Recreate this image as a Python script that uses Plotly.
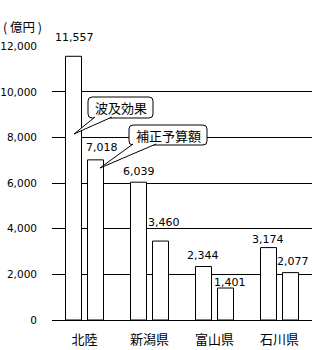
import plotly.graph_objects as go

categories = ["北陸", "新潟県", "富山県", "石川県"]
wave_effect = [11557, 6039, 2344, 3174]      # 波及効果
budget = [7018, 3460, 1401, 2077]            # 補正予算額
y_ticks = [0, 2000, 4000, 6000, 8000, 10000, 12000]
y_tick_labels = ["0", "2,000", "4,000", "6,000", "8,000", "10,000", "12,000"]

# label placement styles (pixel offsets of value labels relative to bar top/centre)
wave_label_dy = [19, 11, 11, 8]
wave_label_dx = [1, 0, -1, -1]
budget_label_dy = [12, 19, 6, 11]
budget_label_dx = [6, 3, 4, 2]

W, H = 320, 350
ML, MR, MT, MB = 52, 8, 46, 30
PW, PH = W - ML - MR, H - MT - MB


def px(x):
    return (x - ML) / PW


def py(y):
    return (H - MB - y) / PH


num_font = dict(family="DejaVu Sans, sans-serif", size=10.5, color="black")
val_font = dict(family="DejaVu Sans, sans-serif", size=11, color="black")
jp_font = dict(family="Noto Sans CJK JP, sans-serif", size=13, color="black")

fig = go.Figure()
annotations = []
series = [("波及効果", wave_effect, -11, wave_label_dx, wave_label_dy),
          ("補正予算額", budget, 11, budget_label_dx, budget_label_dy)]
for name, vals, off, dxs, dys in series:
    fig.add_trace(go.Bar(
        x=categories, y=vals, name=name,
        marker=dict(color="white", line=dict(color="black", width=1)),
    ))
    for c, v, dx, dy in zip(categories, vals, dxs, dys):
        annotations.append(dict(x=c, y=v, xref="x", yref="y", text=f"{v:,}",
                                showarrow=False, xanchor="center", yanchor="middle",
                                xshift=off + dx, yshift=dy, font=val_font))


def rounded_box(x0, y0, x1, y1, r=4):
    a, b, c, d = px(x0), px(x1), py(y0), py(y1)
    rx, ry = r / PW, r / PH
    return (f"M {a+rx},{c} L {b-rx},{c} Q {b},{c} {b},{c-ry} L {b},{d+ry} "
            f"Q {b},{d} {b-rx},{d} L {a+rx},{d} Q {a},{d} {a},{d+ry} "
            f"L {a},{c-ry} Q {a},{c} {a+rx},{c} Z")


def tail(xa, xb, ytop, tx, ty):
    return f"M {px(xa)},{py(ytop)} L {px(tx)},{py(ty)} L {px(xb)},{py(ytop)}"


callouts = [
    # box (x0, y0, x1, y1), tail (xa, xb, tipx, tipy), text
    ((88, 97, 153, 118), (95, 112, 74, 134), "波及効果"),
    ((129, 125, 207, 145), (133, 156, 100, 168), "補正予算額"),
]
shapes = []
for (x0, y0, x1, y1), (xa, xb, tx, ty), label in callouts:
    shapes.append(dict(type="path", path=rounded_box(x0, y0, x1, y1),
                       xref="paper", yref="paper", fillcolor="white",
                       line=dict(color="black", width=1), layer="above"))
    shapes.append(dict(type="path", path=tail(xa, xb, y1 - 1, tx, ty),
                       xref="paper", yref="paper", fillcolor="white",
                       line=dict(color="black", width=1), layer="above"))
    annotations.append(dict(text=label, x=px((x0 + x1) / 2), y=py((y0 + y1) / 2),
                            xref="paper", yref="paper", showarrow=False,
                            xanchor="center", yanchor="middle", font=jp_font))

annotations.append(dict(text="( 億円 )", x=px(1), y=py(26), xref="paper", yref="paper",
                        showarrow=False, xanchor="left", yanchor="middle",
                        font=dict(family="Noto Sans CJK JP, sans-serif", size=12.5,
                                  color="black")))

fig.update_layout(
    width=W, height=H,
    margin=dict(l=ML, r=MR, t=MT, b=MB),
    paper_bgcolor="white", plot_bgcolor="white",
    barmode="group", bargap=0.323, bargroupgap=0.273,
    showlegend=False,
    shapes=shapes, annotations=annotations,
    xaxis=dict(showgrid=False, showline=False, ticks="", tickfont=jp_font,
               ticklabelstandoff=10, automargin=False),
    yaxis=dict(range=[0, 12008], tickvals=y_ticks, ticktext=y_tick_labels,
               showgrid=True, gridcolor="black", gridwidth=1,
               zeroline=True, zerolinecolor="black", zerolinewidth=1,
               showline=False, ticks="", tickfont=num_font, ticklabelstandoff=14,
               automargin=False),
)

fig.write_html("out.html")
